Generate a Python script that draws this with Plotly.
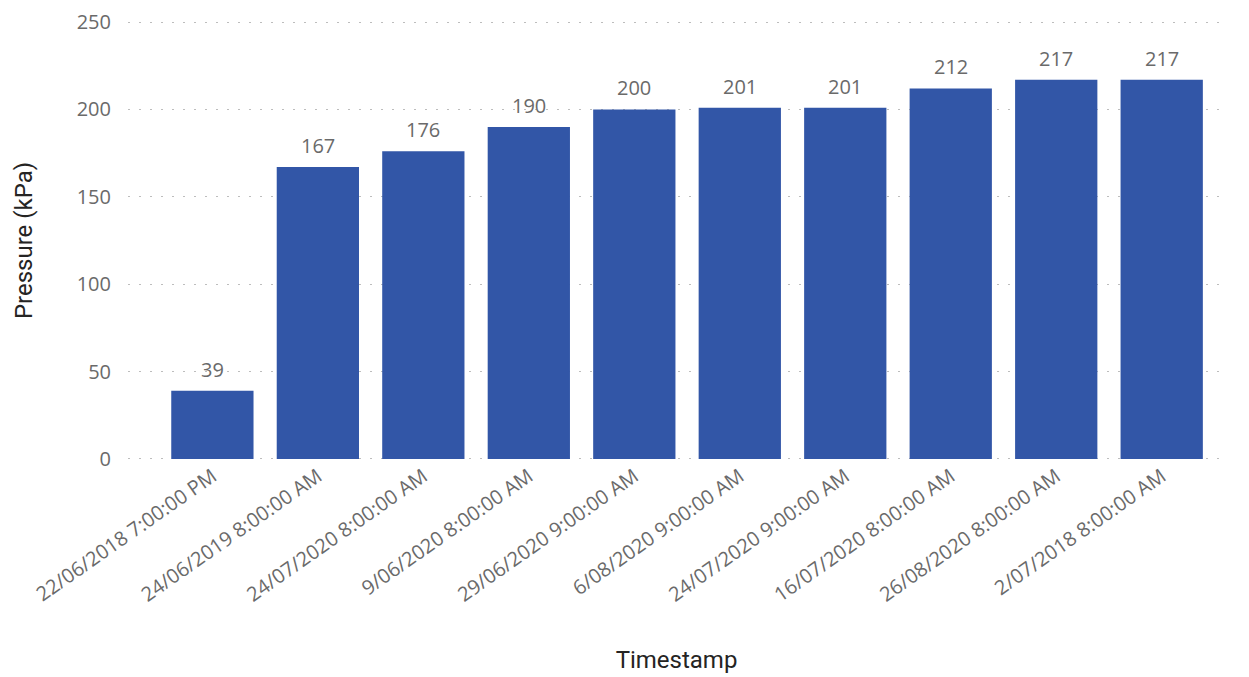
import plotly.graph_objects as go

# Pressure readings by timestamp
timestamps = [
    "22/06/2018 7:00:00 PM",
    "24/06/2019 8:00:00 AM",
    "24/07/2020 8:00:00 AM",
    "9/06/2020 8:00:00 AM",
    "29/06/2020 9:00:00 AM",
    "6/08/2020 9:00:00 AM",
    "24/07/2020 9:00:00 AM",
    "16/07/2020 8:00:00 AM",
    "26/08/2020 8:00:00 AM",
    "2/07/2018 8:00:00 AM",
]
pressure_kpa = [39, 167, 176, 190, 200, 201, 201, 212, 217, 217]
y_ticks = [0, 50, 100, 150, 200, 250]

BAR_COLOR = "#3256A7"
LABEL_COLOR = "#6A6A6A"
TITLE_COLOR = "#252423"
TICK_FONT = "Open Sans"
TITLE_FONT = "Roboto"

x_idx = list(range(len(timestamps)))

fig = go.Figure()
fig.add_trace(go.Bar(
    x=x_idx,
    y=pressure_kpa,
    marker=dict(color=BAR_COLOR, line=dict(width=0)),
    width=0.78,
    hoverinfo="x+y",
))

# value labels above each bar
for xi, v in zip(x_idx, pressure_kpa):
    fig.add_annotation(
        x=xi, y=v, text=str(v), showarrow=False,
        yanchor="bottom", yshift=6,
        font=dict(family=TICK_FONT, size=20, color=LABEL_COLOR),
    )

fig.update_layout(
    width=1249, height=677,
    margin=dict(l=128, r=24, t=21, b=217),
    paper_bgcolor="white", plot_bgcolor="white",
    showlegend=False,
    xaxis=dict(
        tickmode="array", tickvals=x_idx, ticktext=timestamps,
        tickangle=-35,
        tickfont=dict(family=TICK_FONT, size=20, color=LABEL_COLOR),
        range=[-0.8, 9.6],
        automargin=False,
        showgrid=False, zeroline=False, showline=False, ticks="",
        title=dict(text="Timestamp", standoff=44,
                   font=dict(family=TITLE_FONT, size=24, color=TITLE_COLOR)),
    ),
    yaxis=dict(
        range=[-0.6, 250.6], tickvals=y_ticks,
        tickfont=dict(family=TICK_FONT, size=20, color=LABEL_COLOR),
        automargin=False,
        showgrid=True, gridcolor="#BDBDBD", griddash="2px,9px", gridwidth=1,
        zeroline=False, showline=False, ticks="",
        ticklabelstandoff=16,
        title=dict(text="Pressure (kPa)", standoff=37,
                   font=dict(family=TITLE_FONT, size=24, color=TITLE_COLOR)),
    ),
)

fig.write_html("out.html")
